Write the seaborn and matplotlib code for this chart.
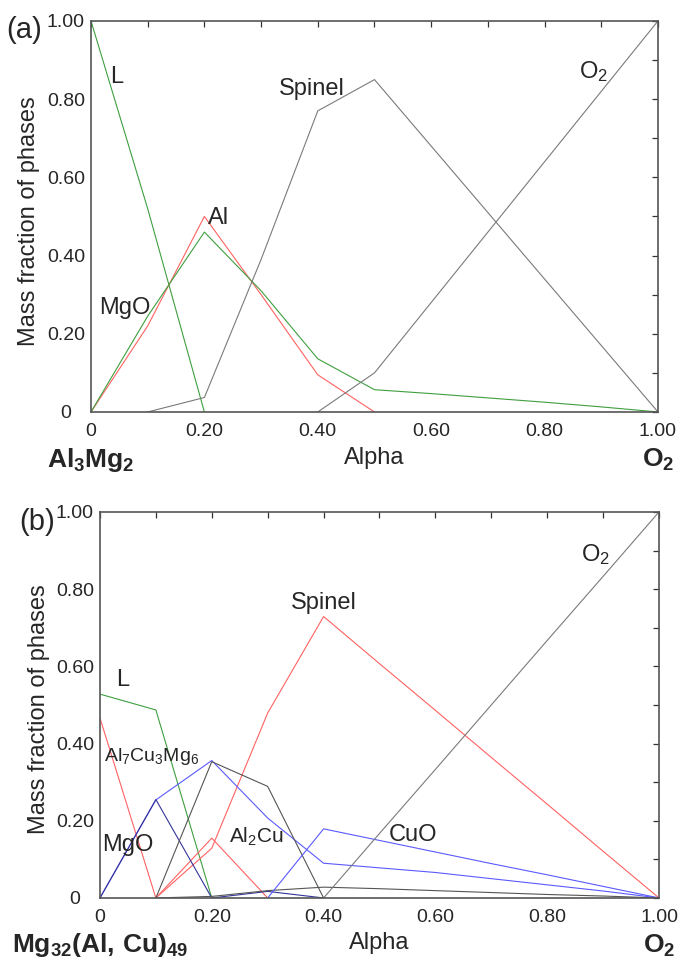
import numpy as np
import pandas as pd
import matplotlib
matplotlib.use('Agg')
import matplotlib.pyplot as plt
import seaborn as sns
from matplotlib.ticker import MultipleLocator, FuncFormatter

sns.set_style('white')
plt.rcParams['font.family'] = ['Liberation Sans', 'DejaVu Sans']
plt.rcParams['mathtext.fontset'] = 'custom'
plt.rcParams['mathtext.rm'] = 'Liberation Sans'
plt.rcParams['mathtext.it'] = 'Liberation Sans:italic'
plt.rcParams['mathtext.bf'] = 'Liberation Sans:bold'

# ---- panel (a): Al3Mg2 + O2 ----
a_x_L = [0, 0.1, 0.2]
a_L = [1.0, 0.52, 0.0]
a_x_al = [0, 0.1, 0.2, 0.3, 0.4, 0.5]
a_al = [0, 0.22, 0.50, 0.30, 0.095, 0]
a_x_mgo = [0, 0.1, 0.2, 0.3, 0.4, 0.5, 0.6, 0.7, 0.8, 0.9, 1.0]
a_mgo = [0, 0.245, 0.46, 0.31, 0.136, 0.057, 0.047, 0.036, 0.025, 0.013, 0]
a_x_spinel = [0.1, 0.2, 0.3, 0.4, 0.5, 0.6, 0.7, 0.8, 0.9, 1.0]
a_spinel = [0, 0.037, 0.39, 0.77, 0.85, 0.68, 0.51, 0.34, 0.17, 0]
a_x_o2 = [0.4, 0.5, 0.6, 0.7, 0.8, 0.9, 1.0]
a_o2 = [0, 0.10, 0.28, 0.46, 0.64, 0.82, 1.0]

# ---- panel (b): Mg32(Al,Cu)49 + O2 ----
b_x_L = [0, 0.1, 0.2]
b_L = [0.528, 0.487, 0]
b_x_fcc = [0, 0.1]
b_fcc = [0.466, 0]
b_x_spinel = [0.1, 0.2, 0.3, 0.4, 0.5, 0.6, 0.7, 0.8, 0.9, 1.0]
b_spinel = [0, 0.129, 0.479, 0.729, 0.607, 0.486, 0.364, 0.243, 0.121, 0]
b_x_al2cu = [0.1, 0.2, 0.3]
b_al2cu = [0, 0.155, 0]
b_x_mgo = [0, 0.1, 0.2, 0.3, 0.4, 0.5, 0.6, 0.7, 0.8, 0.9, 1.0]
b_mgo = [0, 0.254, 0.356, 0.207, 0.09, 0.078, 0.066, 0.05, 0.034, 0.018, 0]
b_x_t = [0, 0.1, 0.2, 0.3, 0.4]
b_t = [0, 0.255, 0, 0.017, 0]
b_x_s = [0.1, 0.2, 0.3, 0.4]
b_s = [0, 0.353, 0.289, 0]
b_x_g2 = [0.1, 0.2, 0.3, 0.4, 0.5, 0.6, 0.7, 0.8, 0.9, 1.0]
b_g2 = [0, 0.004, 0.019, 0.028, 0.024, 0.019, 0.014, 0.009, 0.005, 0]
b_x_cuo = [0.3, 0.4, 0.5, 0.6, 0.7, 0.8, 0.9, 1.0]
b_cuo = [0, 0.179, 0.149, 0.119, 0.089, 0.06, 0.03, 0]
b_x_o2 = [0.4, 0.5, 0.6, 0.7, 0.8, 0.9, 1.0]
b_o2 = [0, 0.167, 0.333, 0.5, 0.667, 0.833, 1.0]

red = '#ff6262'
green = '#3f9f3f'
gray = '#7a7a7a'
blue = '#5a5aff'
navy = '#34349a'

fig = plt.figure(figsize=(6.81, 9.61), dpi=100)
ax1 = fig.add_axes([0.1336, 0.5713, 0.8326, 0.4069])
ax2 = fig.add_axes([0.1468, 0.0656, 0.8209, 0.4017])

lines_a = [(a_x_L, a_L, green), (a_x_al, a_al, red), (a_x_mgo, a_mgo, green),
           (a_x_spinel, a_spinel, gray), (a_x_o2, a_o2, gray)]
lines_b = [(b_x_L, b_L, green), (b_x_fcc, b_fcc, red), (b_x_spinel, b_spinel, red),
           (b_x_al2cu, b_al2cu, red), (b_x_mgo, b_mgo, blue), (b_x_t, b_t, navy),
           (b_x_s, b_s, '#555555'), (b_x_g2, b_g2, '#555555'),
           (b_x_cuo, b_cuo, blue), (b_x_o2, b_o2, gray)]

for ax, lines in [(ax1, lines_a), (ax2, lines_b)]:
    for xs, ys, c in lines:
        sns.lineplot(x=xs, y=ys, color=c, lw=0.8, ax=ax, estimator=None, sort=False)

fmt = FuncFormatter(lambda v, p: '0' if abs(v) < 1e-9 else '%.2f' % v)
for ax in [ax1, ax2]:
    ax.set_xlim(0, 1)
    ax.set_ylim(0, 1)
    ax.xaxis.set_major_locator(MultipleLocator(0.2))
    ax.xaxis.set_minor_locator(MultipleLocator(0.1))
    ax.yaxis.set_major_locator(MultipleLocator(0.2))
    ax.yaxis.set_minor_locator(MultipleLocator(0.1))
    ax.xaxis.set_major_formatter(fmt)
    ax.yaxis.set_major_formatter(fmt)
    ax.tick_params(which='both', direction='in', top=True, right=True,
                   length=4, width=0.9, color='#333333')
    ax.tick_params(axis='y', which='major', pad=18)
    ax.tick_params(axis='x', which='major', pad=8)
    for lab in ax.get_xticklabels() + ax.get_yticklabels():
        lab.set_fontsize(14)
    for lab in ax.get_yticklabels():
        lab.set_horizontalalignment('center')
    for s in ax.spines.values():
        s.set_color('#555555')
        s.set_linewidth(1.2)
    ax.set_xlabel('')
    ax.set_ylabel('')
    ax.text(-0.109, 0.488, 'Mass fraction of phases', rotation=90, ha='center',
            va='center', fontsize=17, transform=ax.transAxes)
    ax.text(0.5, -0.133, 'Alpha', ha='center', va='baseline', fontsize=17,
            transform=ax.transAxes)
    ax.text(1.0, -0.141, r'$\mathbf{O_2}$', ha='center', va='baseline',
            fontsize=19, transform=ax.transAxes)

ax1.text(0.0, -0.141, r'$\mathbf{Al_3Mg_2}$', ha='center', va='baseline',
         fontsize=19, transform=ax1.transAxes)
ax2.text(0.0, -0.140, r'$\mathbf{Mg_{32}(Al,\,Cu)_{49}}$', ha='center', va='baseline',
         fontsize=19, transform=ax2.transAxes)

fig.text(0.036, 0.969, '(a)', ha='center', va='center', fontsize=21)
fig.text(0.055, 0.457, '(b)', ha='center', va='center', fontsize=21)

lab_kw = dict(ha='center', va='center', fontsize=17)
ax1.text(0.045, 0.857, 'L', **lab_kw)
ax1.text(0.389, 0.825, 'Spinel', **lab_kw)
ax1.text(0.886, 0.87, r'O$_2$', **lab_kw)
ax1.text(0.225, 0.495, 'Al', **lab_kw)
ax1.text(0.06, 0.266, 'MgO', **lab_kw)

ax2.text(0.886, 0.889, r'O$_2$', **lab_kw)
ax2.text(0.40, 0.764, 'Spinel', **lab_kw)
ax2.text(0.041, 0.565, 'L', **lab_kw)
ax2.text(0.093, 0.366, r'Al$_7$Cu$_3$Mg$_6$', ha='center', va='center', fontsize=14)
ax2.text(0.05, 0.137, 'MgO', **lab_kw)
ax2.text(0.28, 0.159, r'Al$_2$Cu', ha='center', va='center', fontsize=15)
ax2.text(0.56, 0.163, 'CuO', **lab_kw)

fig.savefig('out.png', dpi=100)
